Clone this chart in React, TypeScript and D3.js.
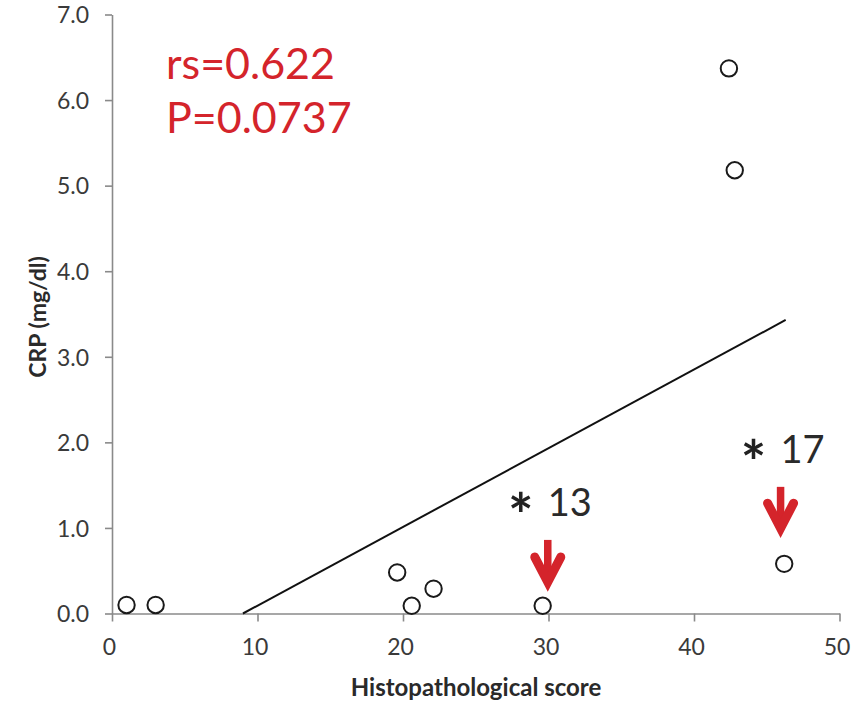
import React, { useEffect, useRef } from "react";
import * as d3 from "d3";

const scoreX = [1.0, 3.0, 19.6, 20.6, 22.1, 29.6, 42.4, 42.8, 46.2];
const crpY = [0.1, 0.1, 0.48, 0.09, 0.29, 0.09, 6.37, 5.18, 0.58];
const xTicks = [0, 10, 20, 30, 40, 50];
const yTicks = [0, 1, 2, 3, 4, 5, 6, 7];
const fitStart = [9.0, 0];
const fitEnd = [46.3, 3.43];
const statLines = ["rs=0.622", "P=0.0737"];
const annoLabels = ["13", "17"];
const annoTextX = [29.95, 45.95];
const annoTextY = [1.14, 1.76];
const arrowX = [29.95, 45.95];
const arrowTop = [0.86, 1.48];
const arrowTip = [0.25, 0.88];

const W = 868;
const H = 706;
const FONT = "Lato, 'Open Sans', sans-serif";
const RED = "#d4242b";

export default function App() {
  const ref = useRef<SVGSVGElement>(null);
  useEffect(() => {
    const svg = d3.select(ref.current);
    svg.selectAll("*").remove();
    const x = d3.scaleLinear().domain([0, 50]).range([112, 839.5]);
    const y = d3.scaleLinear().domain([0, 7]).range([613.5, 14.5]);

    const gx = svg.append("g").attr("transform", `translate(0,${y(0)})`)
      .call(d3.axisBottom(x).tickValues(xTicks).tickSize(8).tickSizeOuter(0).tickPadding(17).tickFormat(d3.format("d")));
    const gy = svg.append("g").attr("transform", `translate(${x(0)},0)`)
      .call(d3.axisLeft(y).tickValues(yTicks).tickSize(7).tickSizeOuter(0).tickPadding(16).tickFormat(d3.format(".1f")));
    [gx, gy].forEach((g) => {
      g.select(".domain").attr("stroke", "#8a8a8a").attr("stroke-width", 1.6);
      g.selectAll(".tick line").attr("stroke", "#8a8a8a").attr("stroke-width", 1.6);
      g.selectAll(".tick text").attr("fill", "#3a3a3a").style("font-family", FONT).style("font-size", "23px");
    });
    gx.selectAll(".tick text").attr("dx", -3);
    gy.selectAll(".tick text").attr("dy", "0.36em");

    // regression line
    svg.append("line")
      .attr("x1", x(fitStart[0])).attr("y1", y(fitStart[1]))
      .attr("x2", x(fitEnd[0])).attr("y2", y(fitEnd[1]))
      .attr("stroke", "#111").attr("stroke-width", 2);

    // points
    svg.append("g").selectAll("circle").data(scoreX).join("circle")
      .attr("cx", (d) => x(d)).attr("cy", (_d, i) => y(crpY[i])).attr("r", 8.2)
      .attr("fill", "#fff").attr("stroke", "#1a1a1a").attr("stroke-width", 2);

    // stats
    svg.append("g").selectAll("text").data(statLines).join("text")
      .attr("x", 166).attr("y", (_d, i) => 79 + i * 54)
      .attr("fill", RED).style("font-family", FONT).style("font-size", "43px")
      .text((d) => d);

    // annotations
    annoLabels.forEach((lab, i) => {
      const tx = x(annoTextX[i]);
      const ty = y(annoTextY[i]);
      svg.append("text").attr("x", tx - 27).attr("y", ty + 21).attr("text-anchor", "middle")
        .attr("fill", "#222").style("font-family", FONT).style("font-size", "60px").style("font-weight", 700)
        .text("*");
      svg.append("text").attr("x", tx).attr("y", ty)
        .attr("fill", "#2a2a2a").style("font-family", FONT).style("font-size", "38px")
        .text(lab);
      const ax = x(arrowX[i]);
      const top = y(arrowTop[i]);
      const tip = y(arrowTip[i]);
      svg.append("line").attr("x1", ax).attr("x2", ax).attr("y1", top).attr("y2", tip - 10)
        .attr("stroke", RED).attr("stroke-width", 7.5);
      const v = tip - 10;
      svg.append("path")
        .attr("d", `M${ax - 13},${v - 25}L${ax},${v}L${ax + 13},${v - 25}`)
        .attr("fill", "none").attr("stroke", RED).attr("stroke-width", 9)
        .attr("stroke-linejoin", "miter").attr("stroke-linecap", "round");
    });

    // axis titles
    svg.append("text").attr("x", 476).attr("y", 696).attr("text-anchor", "middle")
      .attr("fill", "#2a2a2a").style("font-family", FONT).style("font-size", "24px").style("font-weight", 700)
      .text("Histopathological score");
    svg.append("text").attr("transform", `translate(46,317) rotate(-90)`).attr("text-anchor", "middle")
      .attr("fill", "#2a2a2a").style("font-family", FONT).style("font-size", "23px").style("font-weight", 700)
      .text("CRP (mg/dl)");
  }, []);
  return (
    <svg ref={ref} width={W} height={H} style={{ position: "absolute", left: 0, top: 0, background: "#fff" }} />
  );
}
